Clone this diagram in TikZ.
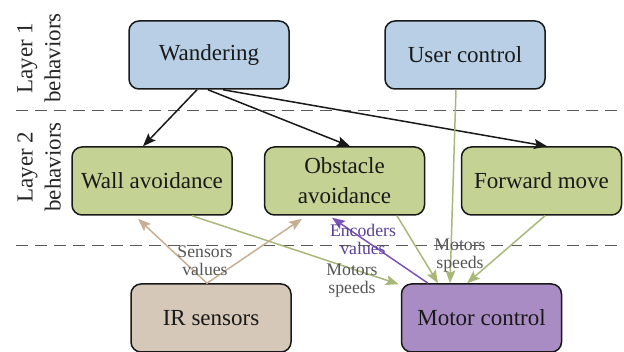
\documentclass[tikz,border=0pt]{standalone}
\usepackage{fontspec}
\setmainfont{Liberation Serif}
\usetikzlibrary{arrows.meta}
\definecolor{layerblue}{HTML}{B8CFE6}
\definecolor{behgreen}{HTML}{C4D393}
\definecolor{irtan}{HTML}{D5C8B8}
\definecolor{motorpurple}{HTML}{A98CC3}
\definecolor{linkgreen}{HTML}{A8B87A}
\definecolor{linktan}{HTML}{C8AE92}
\definecolor{linkpurple}{HTML}{7B52B8}
\definecolor{labgray}{HTML}{555555}
\definecolor{labpurple}{HTML}{5A3F96}
\tikzset{
  tip/.tip={Stealth[length=13pt,width=10pt,inset=2.5pt]},
  block/.style={draw=black!90, line width=1.5pt, rounded corners=10pt,
    minimum width=160pt, minimum height=68pt, align=center,
    font=\fontsize{23}{30}\selectfont, text=black!90},
  layerlabel/.style={rotate=90, align=center, font=\fontsize{23}{28}\selectfont, text=black!85},
  linklabel/.style={align=center, font=\fontsize{17.7}{18}\selectfont, inner sep=0pt},
  sep/.style={dash pattern=on 12pt off 7pt, line width=1pt, draw=black!65},
  cmd/.style={-tip, line width=1.5pt, draw=black!90},
  green link/.style={-tip, line width=1.5pt, draw=linkgreen},
}
\begin{document}
\begin{tikzpicture}[x=1pt,y=-1pt]
  \useasboundingbox (0,0) rectangle (624,352);
  % layer separators
  \coordinate (s1a) at (16,111);
  \coordinate (s1b) at (624,111);
  \coordinate (s2a) at (16,246);
  \coordinate (s2b) at (624,246);
  \draw[sep] (s1a) -- (s1b);
  \draw[sep] (s2a) -- (s2b);
  \node[layerlabel] (lay1) at (39,58) {Layer 1\\behaviors};
  \node[layerlabel] (lay2) at (39,167) {Layer 2\\behaviors};
  % blocks
  \node[block, fill=layerblue] (wand) at (209,55) {Wandering};
  \node[block, fill=layerblue] (user) at (465,55) {User control};
  \node[block, fill=behgreen] (wall) at (152,181) {Wall avoidance};
  \node[block, fill=behgreen] (obst) at (344.5,181) {Obstacle\\avoidance};
  \node[block, fill=behgreen] (fwd) at (541.5,181) {Forward move};
  \node[block, fill=irtan] (ir) at (211,318) {IR sensors};
  \node[block, fill=motorpurple] (motor) at (481.5,318) {Motor control};
  % layer 1 to layer 2
  \begin{scope}[cmd]
    \draw ([xshift=-12pt]wand.south) to ([xshift=-9pt]wall.north);
    \draw ([xshift=-1pt]wand.south) to ([xshift=5.5pt]obst.north);
    \draw ([xshift=14pt]wand.south) to ([xshift=5.5pt]fwd.north);
  \end{scope}
  % motor commands
  \begin{scope}[green link]
    \draw ([xshift=-9pt]user.south) to ([xshift=-31.5pt]motor.north);
    \draw ([xshift=40pt]wall.south) to ([xshift=-2pt,yshift=-1pt]motor.north west);
    \draw ([xshift=52.5pt]obst.south) to ([xshift=-43.5pt]motor.north);
    \draw ([xshift=3.5pt]fwd.south) to ([xshift=-14.5pt]motor.north);
  \end{scope}
  % sensor feedback
  \begin{scope}[-tip, line width=1.5pt]
    \draw[linktan] ([xshift=-4pt]ir.north) to ([xshift=-14pt,yshift=-3pt]wall.south);
    \draw[linktan] ([xshift=-4pt]ir.north) to ([xshift=-42.5pt,yshift=-3pt]obst.south);
    \draw[linkpurple] ([xshift=-53.5pt]motor.north) to ([xshift=-12.5pt,yshift=-2pt]obst.south);
  \end{scope}
  % labels
  \node[linklabel, text=labgray] (sens) at (205,261) {Sensors\\values};
  \node[linklabel, text=labpurple] (enc) at (363,239) {Encoders\\values};
  \node[linklabel, text=labgray] (spd1) at (352,281) {Motors\\speeds};
  \node[linklabel, text=labgray] (spd2) at (460,256) {Motors\\speeds};
\end{tikzpicture}
\end{document}
